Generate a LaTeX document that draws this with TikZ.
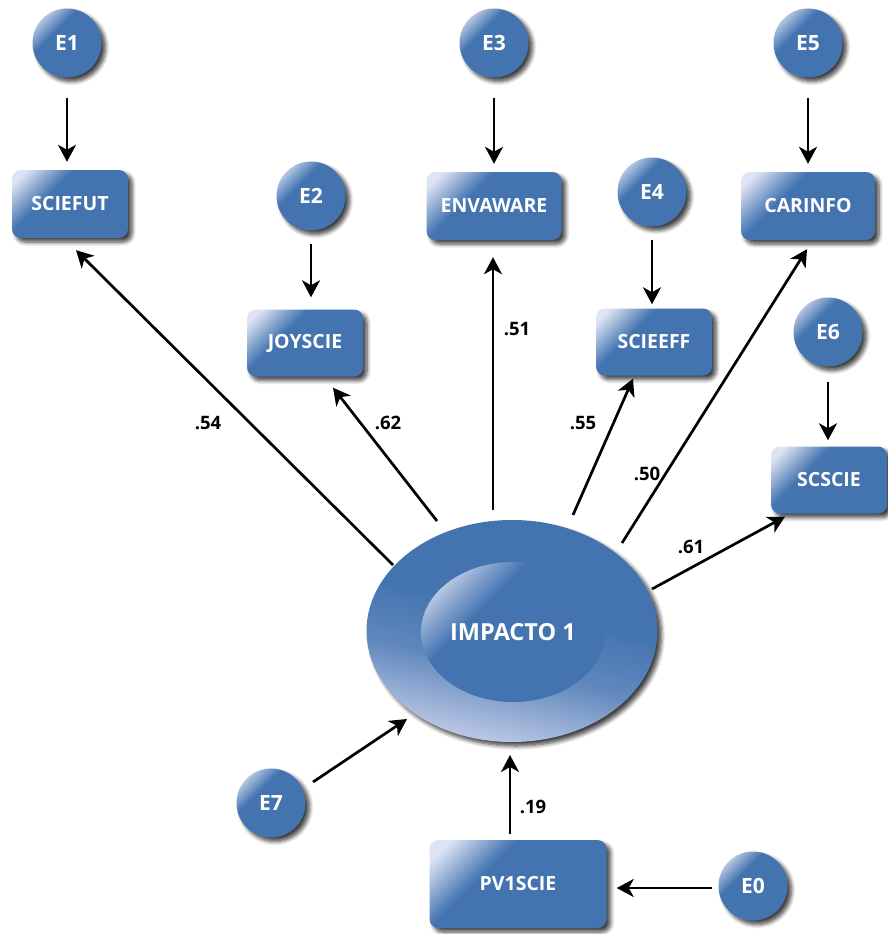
\documentclass[tikz,border=0pt]{standalone}
\usepackage{fontspec}
\setmainfont{Open Sans}
\usetikzlibrary{shapes.geometric,shadows.blur,arrows.meta}
\definecolor{basec}{RGB}{67,116,176}
\definecolor{hlc}{RGB}{222,228,244}
\definecolor{lowc}{RGB}{208,214,238}
\pgfdeclarehorizontalshading{hlsh}{100bp}{color(0bp)=(hlc); color(20bp)=(hlc); color(38bp)=(basec); color(100bp)=(basec)}
\pgfdeclareverticalshading{lowsh}{100bp}{color(0bp)=(lowc); color(22bp)=(lowc); color(42bp)=(basec!80!lowc); color(55bp)=(basec); color(100bp)=(basec)}
\begin{document}
\begin{tikzpicture}[x=1pt,y=-1pt,
  sh/.style={blur shadow={shadow xshift=4pt, shadow yshift=-4pt, shadow blur radius=4pt, shadow blur steps=6, shadow opacity=75}},
  errc/.style={circle, minimum size=69pt, inner sep=0pt, shading=hlsh, shading angle=-45, text=white, sh,
    font=\fontsize{21}{25}\selectfont\bfseries},
  var/.style={rectangle, rounded corners=9pt, inner sep=0pt, shading=hlsh, shading angle=-45, text=white, sh,
    font=\fontsize{19.5}{23}\selectfont\bfseries},
  latouter/.style={ellipse, minimum width=291pt, minimum height=222pt, inner sep=0pt, shading=lowsh, shading angle=-12, sh},
  latinner/.style={ellipse, minimum width=184pt, minimum height=140pt, inner sep=0pt, shading=hlsh, shading angle=-45, text=white,
    font=\fontsize{23.5}{28}\selectfont\bfseries},
  coef/.style={text=black, inner sep=0pt, font=\fontsize{18.5}{22}\selectfont\bfseries},
  arr/.style={line width=2.7pt, -{Stealth[length=17pt,width=18pt,inset=5pt]}}
]
\useasboundingbox (0,0) rectangle (887,934);

% error terms
\node[errc] (e1) at (67,43) {E1};
\node[errc] (e2) at (311,196) {E2};
\node[errc] (e3) at (494,43) {E3};
\node[errc] (e4) at (652,192) {E4};
\node[errc] (e5) at (808,43) {E5};
\node[errc] (e6) at (828,332) {E6};
\node[errc] (e7) at (271,803) {E7};
\node[errc] (e0) at (753,886) {E0};

% observed variables
\node[var, minimum width=116pt, minimum height=68pt] (sciefut) at (70,204) {SCIEFUT};
\node[var, minimum width=116pt, minimum height=67pt] (joyscie) at (305,343) {JOYSCIE};
\node[var, minimum width=135pt, minimum height=68pt] (envaware) at (494,206) {ENVAWARE};
\node[var, minimum width=116pt, minimum height=67pt] (scieeff) at (654,342) {SCIEEFF};
\node[var, minimum width=134pt, minimum height=68pt] (carinfo) at (808,206) {CARINFO};
\node[var, minimum width=116pt, minimum height=67pt] (scscie) at (829,480) {SCSCIE};
\node[var, minimum width=177pt, minimum height=88pt] (pv1scie) at (518,884) {PV1SCIE};

% latent
\node[latouter] (imp) at (512,631) {};
\node[latinner] (impin) at (513,632) {IMPACTO 1};

% error arrows
\draw[arr, shorten <=20pt, shorten >=8pt] (e1.south) -- (e1.south |- sciefut.north);
\draw[arr, shorten <=20pt, shorten >=8pt] (e3.south) -- (e3.south |- envaware.north);
\draw[arr, shorten <=20pt, shorten >=8pt] (e5.south) -- (e5.south |- carinfo.north);
\draw[arr, shorten <=13pt, shorten >=12pt] (e2.south) -- (e2.south |- joyscie.north);
\draw[arr, shorten <=13pt, shorten >=4pt] (e4.south) -- (e4.south |- scieeff.north);
\draw[arr, shorten <=15pt, shorten >=6pt] (e6.south) -- (e6.south |- scscie.north);
\draw[arr] ([shift={(42,-21)}]e7.center) -- ([shift={(-105,88)}]imp.center);
\draw[arr] ([shift={(-6,2)}]e0.west) -- ([shift={(10,4)}]pv1scie.east);

% loadings
\draw[arr] ([shift={(-119,-66)}]imp.center) -- ([shift={(6,12)}]sciefut.south);
\draw[arr] ([shift={(-75,-110)}]imp.center) -- ([shift={(28,11)}]joyscie.south);
\draw[arr] ([shift={(-19,-121)}]imp.center) -- ([shift={(-1,17)}]envaware.south);
\draw[arr] ([shift={(61,-116)}]imp.center) -- ([shift={(-21,3)}]scieeff.south);
\draw[arr] ([shift={(110,-88)}]imp.center) -- ([shift={(-1,9)}]carinfo.south);
\draw[arr] ([shift={(140,-42)}]imp.center) -- ([shift={(-44,3)}]scscie.south);
\draw[arr] ([shift={(-8,-6)}]pv1scie.north) -- ([shift={(-2,124)}]imp.center);

% coefficients
\node[coef] (l54) at (208,423) {.54};
\node[coef] (l62) at (388,423) {.62};
\node[coef] (l51) at (517,329) {.51};
\node[coef] (l55) at (583,423) {.55};
\node[coef] (l50) at (647,474) {.50};
\node[coef] (l61) at (691,547) {.61};
\node[coef] (l19) at (533,807) {.19};
\end{tikzpicture}
\end{document}
